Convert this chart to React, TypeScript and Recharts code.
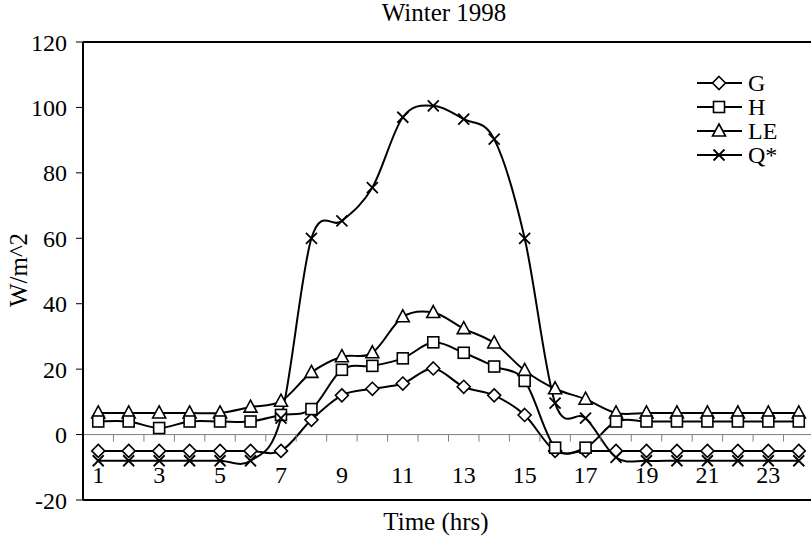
import React from 'react';
import { LineChart, Line, XAxis, YAxis, ReferenceLine, Legend, Label } from 'recharts';

const hours = [1, 2, 3, 4, 5, 6, 7, 8, 9, 10, 11, 12, 13, 14, 15, 16, 17, 18, 19, 20, 21, 22, 23, 24];
const gValues = [-5, -5, -5, -5, -5, -5, -5, 4.5, 12, 14, 15.6, 20.2, 14.6, 12, 6, -5, -5, -5, -5, -5, -5, -5, -5, -5];
const hValues = [4, 4, 2, 4, 4, 4, 6, 7.8, 19.8, 21, 23.3, 28.2, 25, 20.8, 16.4, -4, -4, 4, 4, 4, 4, 4, 4, 4];
const leValues = [6.6, 6.6, 6.6, 6.6, 6.6, 8.4, 10.2, 19, 23.8, 25, 36, 37.3, 32.4, 28, 19.6, 14, 10.8, 6.6, 6.6, 6.6, 6.6, 6.6, 6.6, 6.6];
const qValues = [-8, -8, -8, -8, -8, -8, 5, 60, 65.3, 75.5, 97, 100.5, 96.4, 90.3, 60, 9.6, 5, -7, -8, -8, -8, -8, -8, -8];
const yTicks = [-20, 0, 20, 40, 60, 80, 100, 120];
const seriesNames = ['G', 'H', 'LE', 'Q*'];
const titleText = 'Winter 1998';
const xTitle = 'Time (hrs)';
const yTitle = 'W/m^2';

const data = hours.map((h, i) => ({
  hour: h,
  G: gValues[i],
  H: hValues[i],
  LE: leValues[i],
  Q: qValues[i],
}));

const FONT = "'Liberation Serif', 'Times New Roman', serif";
const CHART_W = 816;
const CHART_H = 541;
const MARGIN = { top: 12, right: 2, bottom: 0, left: 0 };
const TOP_AXIS_H = 30;
const BOTTOM_AXIS_H = 41;
const Y_AXIS_W = 83;
const PLOT_TOP = MARGIN.top + TOP_AXIS_H;
const PLOT_BOTTOM = CHART_H - MARGIN.bottom - BOTTOM_AXIS_H;
const PLOT_LEFT = MARGIN.left + Y_AXIS_W;
const PLOT_RIGHT = CHART_W - MARGIN.right;
const Y_MIN = -20;
const Y_MAX = 120;
const ZERO_Y = PLOT_TOP + ((PLOT_BOTTOM - PLOT_TOP) * (Y_MAX - 0)) / (Y_MAX - Y_MIN);
const BAND = (PLOT_RIGHT - PLOT_LEFT) / hours.length;

// Excel-like smoothed line (Catmull-Rom through the points)
const excelCurve: any = (context: any) => {
  let xs: number[] = [];
  let ys: number[] = [];
  return {
    areaStart() {},
    areaEnd() {},
    lineStart() {
      xs = [];
      ys = [];
    },
    point(x: number, y: number) {
      xs.push(+x);
      ys.push(+y);
    },
    lineEnd() {
      const n = xs.length;
      if (!n) return;
      context.moveTo(xs[0], ys[0]);
      for (let i = 0; i < n - 1; i++) {
        const a = Math.max(i - 1, 0);
        const d = Math.min(i + 2, n - 1);
        const x1 = xs[i], y1 = ys[i], x2 = xs[i + 1], y2 = ys[i + 1];
        context.bezierCurveTo(
          x1 + (x2 - xs[a]) / 6,
          y1 + (y2 - ys[a]) / 6,
          x2 - (xs[d] - x1) / 6,
          y2 - (ys[d] - y1) / 6,
          x2,
          y2
        );
      }
    },
  };
};

function Marker({ shape, cx, cy }: { shape: string; cx: number; cy: number }) {
  const sw = 1.6;
  if (cx == null || cy == null) return null;
  if (shape === 'diamond') {
    const r = 6.5;
    return (
      <polygon
        points={`${cx},${cy - r} ${cx + r},${cy} ${cx},${cy + r} ${cx - r},${cy}`}
        fill="#fff"
        stroke="#000"
        strokeWidth={sw}
      />
    );
  }
  if (shape === 'square') {
    const s = 5.5;
    return <rect x={cx - s} y={cy - s} width={2 * s} height={2 * s} fill="#fff" stroke="#000" strokeWidth={sw} />;
  }
  if (shape === 'triangle') {
    return (
      <polygon
        points={`${cx},${cy - 7} ${cx + 6.5},${cy + 5} ${cx - 6.5},${cy + 5}`}
        fill="#fff"
        stroke="#000"
        strokeWidth={sw}
      />
    );
  }
  const c = 5.5;
  return (
    <path
      d={`M${cx - c},${cy - c}L${cx + c},${cy + c}M${cx + c},${cy - c}L${cx - c},${cy + c}`}
      stroke="#000"
      strokeWidth={1.8}
      fill="none"
    />
  );
}

const shapes: Record<string, string> = { G: 'diamond', H: 'square', LE: 'triangle', 'Q*': 'cross' };

const makeDot = (shape: string, prefix: string) => (p: any) => (
  <Marker key={`${prefix}-${p.index}`} shape={shape} cx={p.cx} cy={p.cy} />
);

const XTick = (props: any) => {
  const { x, payload } = props;
  const v = payload.value as number;
  const isLast = v === hours[hours.length - 1];
  return (
    <g>
      {!isLast && (
        <line x1={x + BAND / 2} x2={x + BAND / 2} y1={ZERO_Y} y2={ZERO_Y + 7} stroke="#808080" strokeWidth={1} />
      )}
      {v % 2 === 1 && (
        <text x={x} y={483} textAnchor="middle" fontSize={24} fontFamily={FONT} fill="#000">
          {v}
        </text>
      )}
    </g>
  );
};

const LegendContent = () => (
  <svg width={121} height={110} style={{ fontFamily: FONT }}>
    {seriesNames.map((name, i) => {
      const y = 13 + i * 24;
      return (
        <g key={name}>
          <line x1={7} x2={52} y1={y} y2={y} stroke="#000" strokeWidth={2} />
          <Marker shape={shapes[name]} cx={29} cy={y} />
          <text x={58} y={y + 8} fontSize={24} fontFamily={FONT} fill="#000">
            {name}
          </text>
        </g>
      );
    })}
  </svg>
);

export default function App() {
  return (
    <div
      style={{
        position: 'absolute',
        left: 0,
        top: 0,
        width: 811,
        height: 541,
        overflow: 'hidden',
        background: '#fff',
        fontFamily: FONT,
      }}
    >
      <LineChart width={CHART_W} height={CHART_H} data={data} margin={MARGIN} style={{ fontFamily: FONT }}>
        <XAxis
          xAxisId="top"
          orientation="top"
          dataKey="hour"
          height={TOP_AXIS_H}
          axisLine={{ stroke: '#000', strokeWidth: 2 }}
          tick={false}
          tickLine={false}
        >
          <Label
            content={() => (
              <text x={444} y={21} textAnchor="middle" fontSize={25} fontFamily={FONT} fill="#000">
                {titleText}
              </text>
            )}
          />
        </XAxis>
        <XAxis
          dataKey="hour"
          height={BOTTOM_AXIS_H}
          axisLine={{ stroke: '#000', strokeWidth: 2 }}
          tickLine={false}
          interval={0}
          padding={{ left: BAND / 2, right: BAND / 2 }}
          tick={<XTick />}
        >
          <Label
            content={() => (
              <text x={436} y={530} textAnchor="middle" fontSize={25} fontFamily={FONT} fill="#000">
                {xTitle}
              </text>
            )}
          />
        </XAxis>
        <YAxis
          width={Y_AXIS_W}
          domain={[Y_MIN, Y_MAX]}
          ticks={yTicks}
          interval={0}
          axisLine={{ stroke: '#000', strokeWidth: 2 }}
          tickLine={{ stroke: '#000', strokeWidth: 1 }}
          tickSize={7}
          tickMargin={9}
          tick={{ fontSize: 24, fontFamily: FONT, fill: '#000' }}
        >
          <Label
            content={() => (
              <text
                x={18}
                y={270}
                transform="rotate(-90, 18, 270)"
                textAnchor="middle"
                dominantBaseline="central"
                fontSize={25}
                fontFamily={FONT}
                fill="#000"
              >
                {yTitle}
              </text>
            )}
          />
        </YAxis>
        <ReferenceLine y={0} stroke="#808080" strokeWidth={1} />
        <Line dataKey="G" type={excelCurve} stroke="#000" strokeWidth={2} dot={makeDot('diamond', 'g')} activeDot={false} isAnimationActive={false} />
        <Line dataKey="LE" type={excelCurve} stroke="#000" strokeWidth={2} dot={makeDot('triangle', 'le')} activeDot={false} isAnimationActive={false} />
        <Line dataKey="H" type={excelCurve} stroke="#000" strokeWidth={2} dot={makeDot('square', 'h')} activeDot={false} isAnimationActive={false} />
        <Line dataKey="Q" type={excelCurve} stroke="#000" strokeWidth={2} dot={makeDot('cross', 'q')} activeDot={false} isAnimationActive={false} />
        <Legend
          layout="vertical"
          align="center"
          verticalAlign="middle"
          wrapperStyle={{ position: 'absolute', left: 690, top: 70, width: 121, height: 110 }}
          content={<LegendContent />}
        />
      </LineChart>
    </div>
  );
}
